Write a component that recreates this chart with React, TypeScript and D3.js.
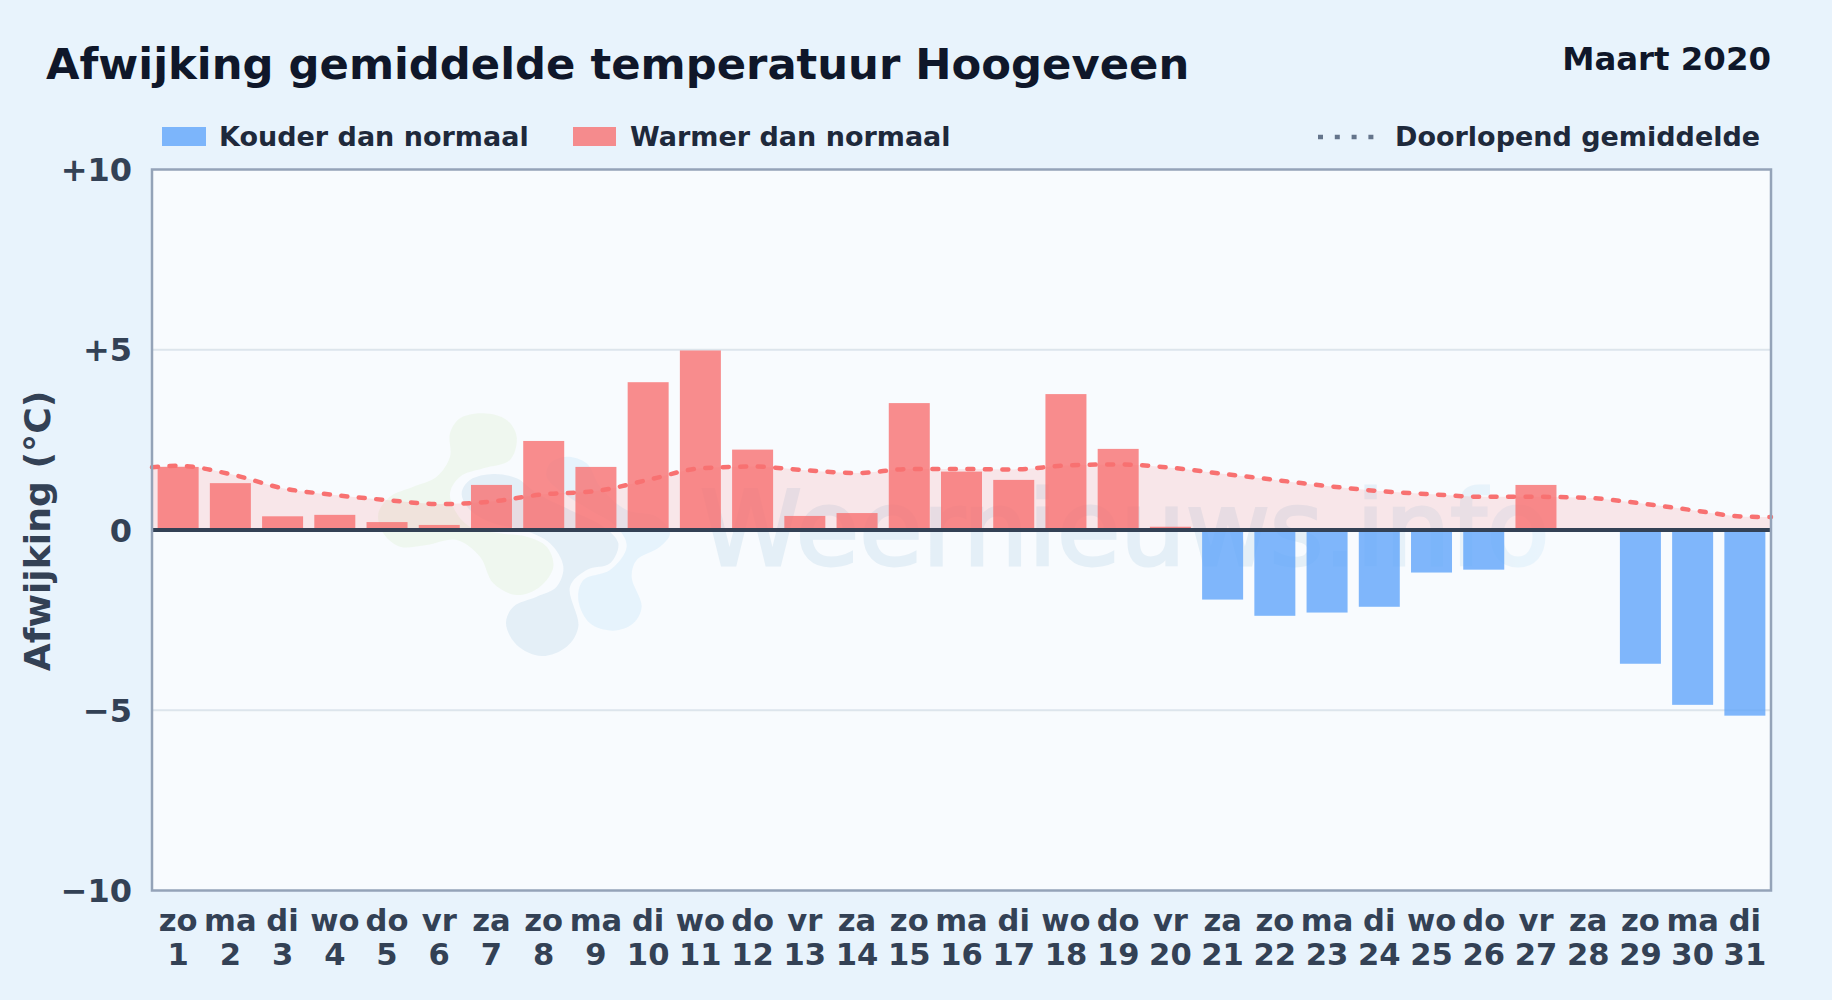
import * as d3 from "d3";

// Waarden (maart 2020, Hoogeveen)
const days = d3.range(1, 32);
const weekdays = ["zo","ma","di","wo","do","vr","za","zo","ma","di","wo","do","vr","za","zo","ma","di","wo","do","vr","za","zo","ma","di","wo","do","vr","za","zo","ma","di"];
const deviation = [1.75,1.3,0.38,0.42,0.22,0.14,1.25,2.47,1.75,4.1,4.98,2.23,0.39,0.47,3.52,1.62,1.39,3.77,2.25,0.09,-1.93,-2.38,-2.29,-2.13,-1.18,-1.1,1.25,0,-3.71,-4.85,-5.15];
const avgDays = [0.5, ...days, 31.5];
const runningAvg = [1.74,1.78,1.55,1.16,0.97,0.83,0.72,0.79,0.99,1.08,1.39,1.71,1.76,1.66,1.58,1.69,1.69,1.68,1.79,1.82,1.73,1.56,1.39,1.22,1.08,0.99,0.92,0.92,0.89,0.74,0.55,0.37,0.36];
const gridTicks = [10, 5, 0, -5, -10];
const tickLabels = ["+10", "+5", "0", "\u22125", "\u221210"];

// watermerk-logo, omtrek in grove punten
const logoGreen = [[240,100],[240,170],[200,230],[130,260],[60,290],[25,340],[40,400],[90,440],[170,435],[260,420],[330,470],[370,550],[440,585],[510,560],[550,500],[530,440],[470,410],[390,400],[300,380],[260,340],[240,280],[270,230],[340,205],[420,180],[440,110],[410,60],[340,40],[270,55]];
const logoBlue = [[275,280],[300,240],[370,222],[440,235],[500,280],[600,330],[700,380],[745,430],[720,490],[650,510],[600,560],[625,680],[590,740],[515,768],[440,735],[408,670],[430,620],[500,590],[560,560],[580,500],[540,430],[460,390],[370,370],[300,330]];
const logoLight = [[540,190],[590,170],[650,190],[690,260],[770,330],[860,350],[900,400],[870,440],[800,480],[785,530],[815,620],[790,670],[730,692],[660,670],[625,600],[640,540],[720,510],[770,440],[740,380],[660,330],[580,280],[530,230]];

const W = 1832, H = 1000;
const plot = { left: 152, right: 1771, top: 169.5, bottom: 890.5 };
const font = "'DejaVu Sans', sans-serif";
const tickColor = "#334155";
const coldColor = "#60a5fa";
const warmColor = "#f87171";

export default function App() {
  const x = d3.scaleBand<number>().domain(days).range([plot.left, plot.right]).paddingInner(0.215).paddingOuter(0.108);
  const xDay = d3.scaleLinear().domain([0.5, 31.5]).range([plot.left, plot.right]);
  const y = d3.scaleLinear().domain([-10, 10]).range([plot.bottom, plot.top]);

  const pts = avgDays.map((d, i) => [d, runningAvg[i]] as [number, number]);
  const line = d3.line<[number, number]>().x(d => xDay(d[0])).y(d => y(d[1])).curve(d3.curveMonotoneX);
  const area = d3.area<[number, number]>().x(d => xDay(d[0])).y0(y(0)).y1(d => y(d[1])).curve(d3.curveMonotoneX);

  const blob = d3.line<number[]>().x(p => 370 + p[0] / 3).y(p => 400 + p[1] / 3).curve(d3.curveCatmullRomClosed);

  return (
    <svg width={W} height={H} viewBox={`0 0 ${W} ${H}`} fontFamily={font} fontWeight="bold"
      style={{ position: "absolute", left: 0, top: 0, display: "block" }}>
      <defs>
        <linearGradient id="wm" x1="0" x2="1" y1="0" y2="0">
          <stop offset="0" stopColor="#3f8abc" />
          <stop offset="0.7" stopColor="#3f8abc" />
          <stop offset="1" stopColor="#6cc0f2" />
        </linearGradient>
      </defs>
      <rect width={W} height={H} fill="#e8f3fc" />

      <text x={46} y={79} fontSize={43.3} fill="#0f172a">Afwijking gemiddelde temperatuur Hoogeveen</text>
      <text x={1771} y={70} fontSize={32.4} fill="#0f172a" textAnchor="end">Maart 2020</text>

      {/* legenda */}
      <rect x={162} y={127} width={44} height={19} fill={coldColor} fillOpacity={0.8} />
      <text x={219} y={146} fontSize={27} fill="#1e293b">Kouder dan normaal</text>
      <rect x={573} y={127} width={43} height={19} fill={warmColor} fillOpacity={0.8} />
      <text x={630} y={146} fontSize={27} fill="#1e293b">Warmer dan normaal</text>
      <line x1={1318} x2={1374} y1={137} y2={137} stroke="#64748b" strokeWidth={4.5} strokeDasharray="5 11.8" />
      <text x={1395} y={146} fontSize={27} fill="#1e293b">Doorlopend gemiddelde</text>

      {/* plotvlak */}
      <rect x={plot.left} y={plot.top} width={plot.right - plot.left} height={plot.bottom - plot.top} fill="#f8fbfe" />

      {/* watermerk */}
      <g>
        <path d={blob(logoGreen)!} fill="#a6d46f" fillOpacity={0.1} />
        <path d={blob(logoBlue)!} fill="#3f8abc" fillOpacity={0.1} />
        <path d={blob(logoLight)!} fill="#6cc0f2" fillOpacity={0.12} />
        <g opacity={0.1}>
          <text x={700} y={565} fontSize={103} fontWeight="normal" fill="url(#wm)" stroke="url(#wm)" strokeWidth={3}>Weernieuws.info</text>
        </g>
      </g>

      {gridTicks.filter(t => t !== 0 && Math.abs(t) !== 10).map(t => (
        <line key={t} x1={plot.left} x2={plot.right} y1={y(t)} y2={y(t)} stroke="#dde5ec" strokeWidth={2} />
      ))}

      <path d={area(pts)!} fill={warmColor} fillOpacity={0.15} />

      {deviation.map((v, i) => (
        <rect key={i} x={x(days[i])} width={x.bandwidth()} y={y(Math.max(v, 0))} height={Math.abs(y(v) - y(0))}
          fill={v >= 0 ? warmColor : coldColor} fillOpacity={0.8} />
      ))}

      <path d={line(pts)!} fill="none" stroke={warmColor} strokeWidth={4.5} strokeDasharray="6 11.5" strokeLinecap="round" />
      <line x1={plot.left} x2={plot.right} y1={y(0)} y2={y(0)} stroke="#334155" strokeWidth={4} />
      <rect x={plot.left} y={plot.top} width={plot.right - plot.left} height={plot.bottom - plot.top} fill="none" stroke="#94a3b8" strokeWidth={2.5} />

      {/* assen */}
      {gridTicks.map((t, i) => (
        <text key={t} x={132} y={y(t) + 11.5} fontSize={32} fill={tickColor} textAnchor="end">{tickLabels[i]}</text>
      ))}
      {days.map((d, i) => (
        <g key={d} fill={tickColor} fontSize={30.6} textAnchor="middle">
          <text x={xDay(d)} y={931}>{weekdays[i]}</text>
          <text x={xDay(d)} y={965}>{d}</text>
        </g>
      ))}
      <text transform={`translate(50,531) rotate(-90)`} fontSize={36.2} fill={tickColor} textAnchor="middle">Afwijking (°C)</text>
    </svg>
  );
}
